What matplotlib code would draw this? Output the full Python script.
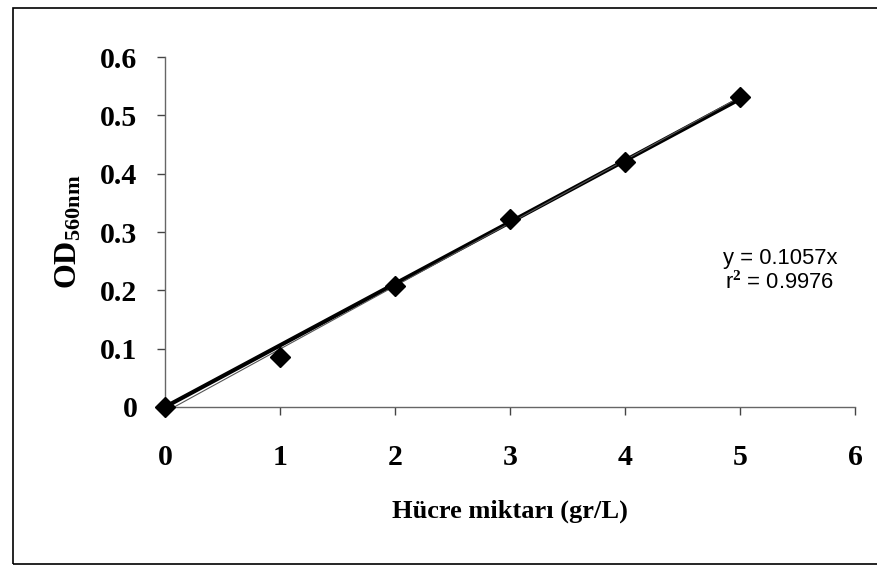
import matplotlib.pyplot as plt
import numpy as np
from matplotlib.patches import Rectangle

# data
cell_amount = [0, 1, 2, 3, 4, 5]
od_560 = [0.0, 0.085, 0.208, 0.323, 0.421, 0.532]
slope = 0.1057
r_squared = 0.9976

xticks = [0, 1, 2, 3, 4, 5, 6]
yticks = [0, 0.1, 0.2, 0.3, 0.4, 0.5, 0.6]

plt.rcParams['mathtext.fontset'] = 'custom'
plt.rcParams['mathtext.bf'] = 'Liberation Serif:bold'
plt.rcParams['mathtext.rm'] = 'Liberation Serif:bold'

fig = plt.figure(figsize=(8.78, 5.66), dpi=100)
# outer chart frame; right side runs off the image edge as in the source
fig.patches.append(Rectangle((0.0148, 0.0027), 1.0, 0.9832, transform=fig.transFigure,
                             fill=False, edgecolor='black', linewidth=1.2))
ax = fig.add_axes([0.188, 0.281, 0.786, 0.618])

x = np.array(cell_amount)
# trend line through origin (thick) and ordinary linear fit (thin)
ax.plot(x, slope * x, color='black', linewidth=3.0, zorder=2)
fit = np.polyfit(cell_amount, od_560, 1)
ax.plot(x, np.polyval(fit, x), color='#555555', linewidth=0.8, zorder=2)
ax.plot(cell_amount, od_560, linestyle='none', color='black', marker='D',
        markersize=10.5, zorder=3, clip_on=False)

ax.set_xlim(0, 6)
ax.set_ylim(0, 0.6)
ax.set_xticks(xticks)
ax.set_yticks(yticks)
ax.set_xticklabels([str(t) for t in xticks])
ax.set_yticklabels(['0', '0.1', '0.2', '0.3', '0.4', '0.5', '0.6'])
for lbl in ax.get_xticklabels() + ax.get_yticklabels():
    lbl.set_fontfamily('Liberation Serif')
    lbl.set_fontweight('bold')
    lbl.set_fontsize(21.5)

ax.spines['top'].set_visible(False)
ax.spines['right'].set_visible(False)
for s in ['left', 'bottom']:
    ax.spines[s].set_color('#666666')
    ax.spines[s].set_linewidth(1.0)
ax.tick_params(axis='y', direction='out', length=6, width=1, color='#444444', pad=14)
ax.tick_params(axis='x', direction='out', length=6, width=1, color='#444444', pad=21)

ax.set_xlabel('Hücre miktarı (gr/L)', fontfamily='Liberation Serif', fontweight='bold',
              fontsize=19, labelpad=20)
ax.set_ylabel(r'$\mathbf{OD_{560nm}}$', fontsize=23, labelpad=12)

ax.text(0.891, 0.389, f'y = {slope}x\nr$^2$ = {r_squared}', transform=ax.transAxes,
        ha='center', va='center', fontfamily='Liberation Sans', fontsize=15.8,
        linespacing=1.15)

fig.savefig('out.png', dpi=100)
